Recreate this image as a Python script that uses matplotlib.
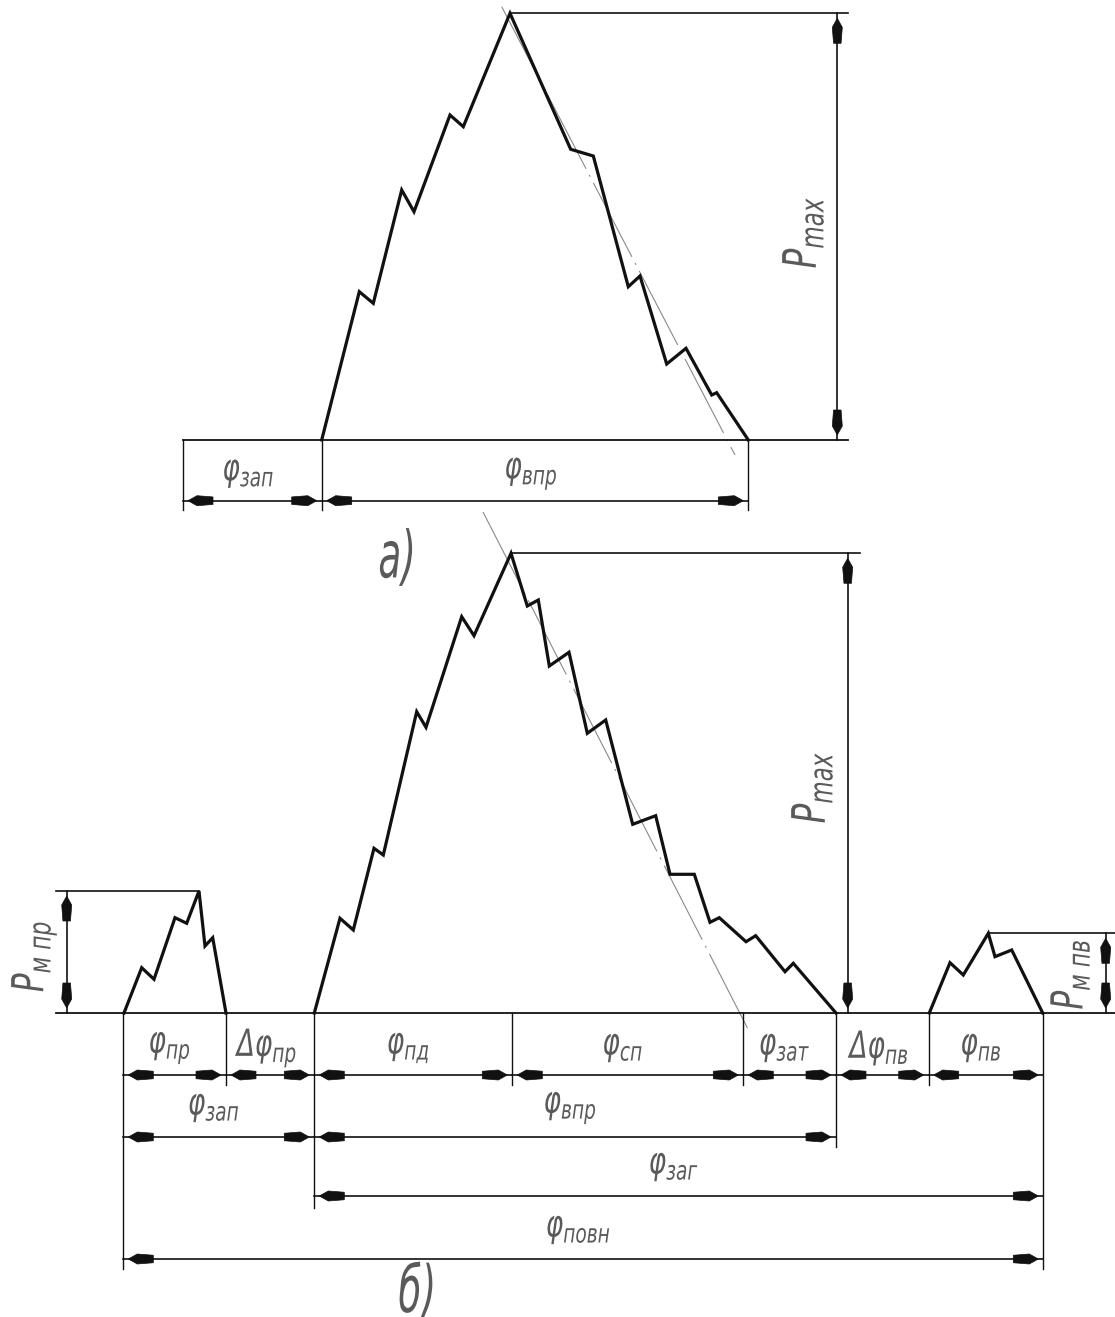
import matplotlib
matplotlib.use('Agg')
import matplotlib.pyplot as plt
from matplotlib.textpath import TextPath
from matplotlib.patches import PathPatch, Polygon
from matplotlib.font_manager import FontProperties
from matplotlib.transforms import Affine2D

plt.rcParams['mathtext.fontset'] = 'custom'
plt.rcParams['mathtext.rm'] = 'DejaVu Sans:italic'
plt.rcParams['mathtext.it'] = 'DejaVu Sans:italic'
plt.rcParams['lines.scale_dashes'] = False

# --- diagram a): pressure curve, drawing units (x = angle, y = down) ---
curve_a_x = [321.7, 359.3, 373.3, 401.7, 414.0, 450.0, 463.3, 510.0, 570.7,
             593.3, 628.3, 640.0, 666.7, 686.0, 711.7, 716.7, 748.3]
curve_a_y = [440.0, 291.7, 303.3, 190.0, 211.7, 115.0, 126.7, 13.3, 149.3,
             156.0, 286.7, 276.0, 364.0, 348.3, 395.0, 392.7, 440.0]
axis_a_x = [501.7, 735.0]
axis_a_y = [6.7, 455.0]
base_a = 440.0
top_a = 13.3
marks_a = [183.0, 321.7, 748.3]
labels_a = [r'$\varphi_{зап}$', r'$\varphi_{впр}$']

# --- diagram б): pre-injection, main injection, post-injection ---
curve_b_x = [314.3, 340.0, 353.3, 374.0, 383.3, 416.7, 426.0, 461.7, 474.0,
             511.0, 527.3, 538.3, 549.3, 569.0, 587.3, 605.7, 632.7, 655.7,
             670.0, 694.3, 710.0, 719.3, 746.0, 755.7, 785.0, 793.3, 836.0]
curve_b_y = [1013.0, 918.3, 930.0, 848.3, 855.0, 711.7, 727.3, 616.7, 635.7,
             553.3, 606.0, 600.0, 666.0, 652.3, 733.3, 720.0, 824.3, 815.7,
             874.3, 874.3, 922.3, 917.7, 941.7, 935.7, 971.7, 963.3, 1013.0]
pre_x = [124.0, 141.7, 154.0, 175.0, 186.7, 199.0, 205.0, 212.7, 226.0]
pre_y = [1013.0, 967.7, 979.3, 917.7, 923.3, 891.0, 946.0, 937.7, 1013.0]
post_x = [929.3, 950.0, 963.3, 988.3, 995.0, 1011.7, 1042.7]
post_y = [1013.0, 962.7, 975.0, 933.3, 956.7, 950.0, 1013.0]
axis_b_x = [483.0, 750.0]
axis_b_y = [512.0, 1033.0]
base_b = 1013.0

marks_b = [123.3, 226.0, 314.3, 512.3, 743.3, 836.0, 928.7, 1043.3]
labels_b = [r'$\varphi_{пр}$', r'$\Delta\varphi_{пр}$', r'$\varphi_{пд}$',
            r'$\varphi_{сп}$', r'$\varphi_{зат}$', r'$\Delta\varphi_{пв}$',
            r'$\varphi_{пв}$']
# overall chains: (row, start mark, end mark, label)
chains_b = [(1, 0, 2, r'$\varphi_{зап}$'), (1, 2, 5, r'$\varphi_{впр}$'),
            (2, 2, 7, r'$\varphi_{заг}$'), (3, 0, 7, r'$\varphi_{повн}$')]
row_y = [1075.0, 1137.0, 1196.0, 1259.0]
ext_end = [1269, 1085, 1208, 1085, 1085, 1147, 1085, 1269]

INK = '#111111'
TXT = '#5a5a5a'
FONT = FontProperties(family='DejaVu Sans', style='italic')


def label(ax, x, y, s, size=34, rotation=0, sx=0.78, sy=1.1):
    path = TextPath((0, 0), s, size=size, prop=FONT)
    ext = path.get_extents()
    cx, cy = (ext.x0 + ext.x1) / 2, (ext.y0 + ext.y1) / 2
    tr = (Affine2D().translate(-cx, -cy).scale(sx, -sy)
          .rotate_deg(-rotation).translate(x, y))
    ax.add_patch(PathPatch(tr.transform_path(path), facecolor=TXT,
                           edgecolor='none'))


def head(ax, tx, ty, dx, dy, length=25, half=5.0):
    # filled arrowhead, tip at (tx, ty), pointing along (dx, dy)
    nx, ny = -dy, dx
    pts = []
    for a, c in [(0, 0), (-9, half), (-length, half * 0.75),
                 (-length, -half * 0.75), (-9, -half)]:
        pts.append((tx + a * dx + c * nx, ty + a * dy + c * ny))
    ax.add_patch(Polygon(pts, closed=True, facecolor=INK, edgecolor=INK,
                         lw=0.5))


def dim_h(ax, x0, x1, y, gap=5):
    ax.plot([x0, x1], [y, y], color=INK, lw=1.2)
    head(ax, x0 + gap, y, -1, 0)
    head(ax, x1 - gap, y, 1, 0)


def dim_v(ax, x, y0, y1, gap=5):
    ax.plot([x, x], [y0, y1], color=INK, lw=1.2)
    head(ax, x, y0 + gap, 0, -1)
    head(ax, x, y1 - gap, 0, 1)


def ext(ax, x, y0, y1):
    ax.plot([x, x], [y0, y1], color=INK, lw=1.0)


fig = plt.figure(figsize=(11.15, 13.17), dpi=100)
ax = fig.add_axes([0, 0, 1, 1])
ax.set_xlim(0, 1115)
ax.set_ylim(1317, 0)
ax.axis('off')

dashdot = (0, (60, 5, 1.5, 5))

# ---- a) ----
ax.plot(axis_a_x, axis_a_y, color='#8a8a8a', lw=0.8, ls=dashdot)
ax.plot(curve_a_x, curve_a_y, color=INK, lw=2.3, solid_joinstyle='miter')
ax.plot([marks_a[0], 848], [base_a, base_a], color=INK, lw=1.3)
ax.plot([curve_a_x[7], 848], [top_a, top_a], color=INK, lw=1.2)
dim_v(ax, 837.3, top_a, base_a)
label(ax, 803, 233, r'$P_{max}$', size=42, rotation=90)
dim_y = 500.7
for m in marks_a:
    ext(ax, m, base_a, 510)
for i, s in enumerate(labels_a):
    dim_h(ax, marks_a[i], marks_a[i + 1], dim_y)
    label(ax, (marks_a[i] + marks_a[i + 1]) / 2 - 4, dim_y - 27, s)
label(ax, 396, 557, 'а)', size=50, sx=0.75, sy=1.3)

# ---- б) ----
ax.plot(axis_b_x, axis_b_y, color='#8a8a8a', lw=0.8, ls=dashdot)
for xs, ys in [(curve_b_x, curve_b_y), (pre_x, pre_y), (post_x, post_y)]:
    ax.plot(xs, ys, color=INK, lw=2.3, solid_joinstyle='miter')
ax.plot([56, 1115], [base_b, base_b], color=INK, lw=1.3)

# peak pressures
ax.plot([curve_b_x[9], 860], [curve_b_y[9], curve_b_y[9]], color=INK, lw=1.2)
dim_v(ax, 847.7, curve_b_y[9], base_b)
label(ax, 812, 788, r'$P_{max}$', size=42, rotation=90)

ax.plot([56, pre_x[5]], [pre_y[5], pre_y[5]], color=INK, lw=1.2)
dim_v(ax, 66.7, pre_y[5], base_b)
label(ax, 34, 957, r'$P_{м\ пр}$', size=40, rotation=90)

ax.plot([post_x[3], 1115], [post_y[3], post_y[3]], color=INK, lw=1.2)
dim_v(ax, 1105.7, post_y[3], base_b)
label(ax, 1070, 975, r'$P_{м\ пв}$', size=40, rotation=90)

# dimension chains below the axis
for m, e in zip(marks_b, ext_end):
    ext(ax, m, base_b, e)
for i, s in enumerate(labels_b):
    dim_h(ax, marks_b[i], marks_b[i + 1], row_y[0])
    label(ax, (marks_b[i] + marks_b[i + 1]) / 2 - 5, row_y[0] - 27, s)
for r, i0, i1, s in chains_b:
    dim_h(ax, marks_b[i0], marks_b[i1], row_y[r])
    label(ax, (marks_b[i0] + marks_b[i1]) / 2 - 5, row_y[r] - 29, s)
label(ax, 416, 1291, 'б)', size=50, sx=0.75, sy=1.3)

fig.savefig('out.png', dpi=100, facecolor='white')
